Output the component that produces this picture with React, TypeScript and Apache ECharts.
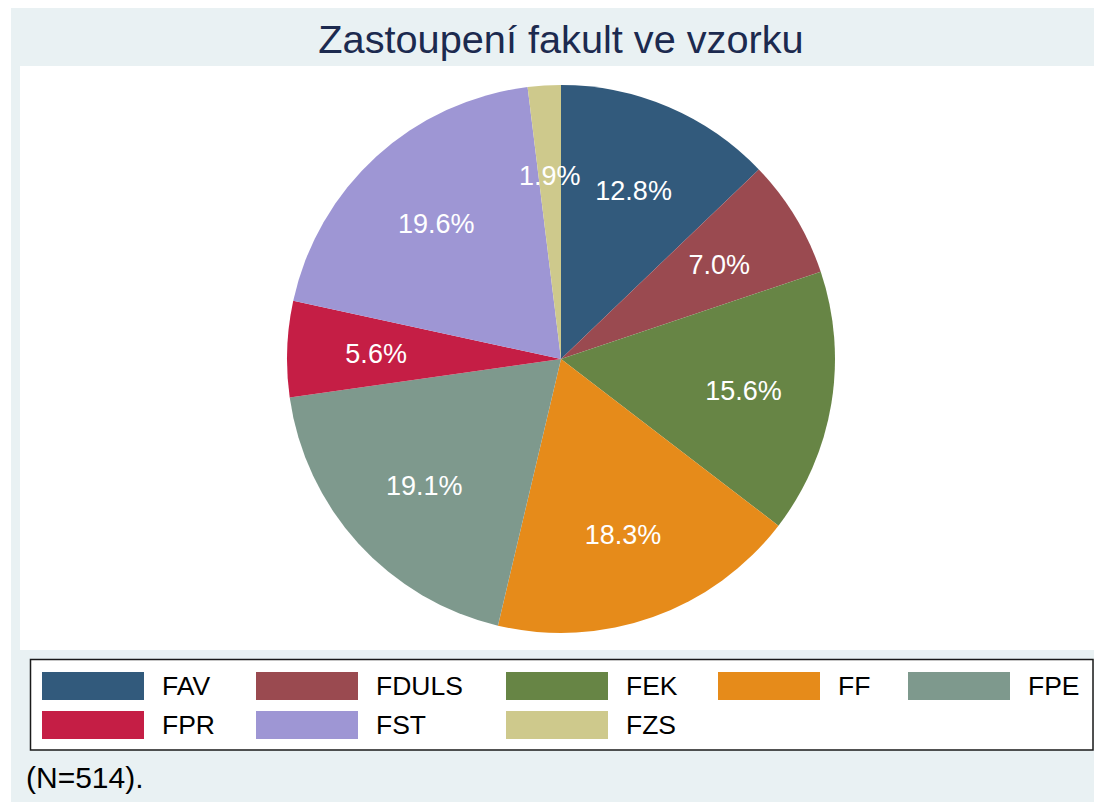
import React, { useEffect, useRef } from "react";
import * as echarts from "echarts";

const categories = ["FAV", "FDULS", "FEK", "FF", "FPE", "FPR", "FST", "FZS"];
const counts = [66, 36, 80, 94, 98, 29, 101, 10];
const colors = ["#325A7C", "#9A4A50", "#678545", "#E68B1A", "#7E998D", "#C51E45", "#9E96D4", "#CEC98C"];
const legendColumns = [["FAV", "FPR"], ["FDULS", "FST"], ["FEK", "FZS"], ["FF"], ["FPE"]];
const legendLefts = [42, 256, 506, 718, 908];
const titleText = "Zastoupení fakult ve vzorku";
const noteText = "(N=514).";

const FONT = "'Liberation Sans', Arial, sans-serif";

export default function App() {
  const ref = useRef<HTMLDivElement>(null);
  useEffect(() => {
    if (!ref.current) return;
    const chart = echarts.init(ref.current, undefined, { renderer: "svg" });
    const total = counts.reduce((a, b) => a + b, 0);
    const data = categories.map((name, i) => ({ name, value: counts[i], itemStyle: { color: colors[i] } }));
    const overlayData = categories.map((name, i) => ({ name, value: counts[i] }));
    chart.setOption({
      animation: false,
      graphic: [
        { type: "rect", z: 0, silent: true, shape: { x: 11, y: 8, width: 1083, height: 794 }, style: { fill: "#E9F1F3" } },
        { type: "rect", z: 0, silent: true, shape: { x: 20, y: 66, width: 1074, height: 584 }, style: { fill: "#FFFFFF" } },
        {
          type: "rect", z: 1, silent: true,
          shape: { x: 30.5, y: 659.5, width: 1062.5, height: 90.5 },
          style: { fill: "#FFFFFF", stroke: "#1a1a1a", lineWidth: 1.5 },
        },
        {
          type: "text", z: 5, silent: true, x: 561, y: 38.5,
          style: { text: titleText, fill: "#1C2A4F", font: `39.7px ${FONT}`, align: "center", verticalAlign: "middle" },
        },
        {
          type: "text", z: 5, silent: true, x: 26, y: 777,
          style: { text: noteText, fill: "#000000", font: `30px ${FONT}`, align: "left", verticalAlign: "middle" },
        },
      ],
      legend: legendColumns.map((col, i) => ({
        data: col,
        orient: "vertical",
        left: legendLefts[i],
        top: 672,
        padding: 0,
        itemWidth: 102,
        itemHeight: 28,
        itemGap: 11,
        icon: "rect",
        selectedMode: false,
        itemStyle: { borderWidth: 0 },
        textStyle: { fontFamily: FONT, fontSize: 26.5, color: "#000000", padding: [0, 0, 0, 13] },
      })),
      series: [
        {
          type: "pie",
          center: [561, 359],
          radius: [0, 274],
          startAngle: 90,
          clockwise: true,
          data,
          label: { show: false },
          labelLine: { show: false },
          itemStyle: { borderWidth: 0 },
          emphasis: { disabled: true },
        },
        {
          type: "pie",
          center: [561, 361],
          radius: [90, 274],
          startAngle: 90,
          clockwise: true,
          silent: true,
          data: overlayData,
          itemStyle: { color: "rgba(0,0,0,0)", borderWidth: 0 },
          label: {
            show: true,
            position: "inside",
            color: "#FFFFFF",
            fontFamily: FONT,
            fontSize: 27,
            formatter: (p: any) => ((p.value / total) * 100).toFixed(1) + "%",
          },
          labelLine: { show: false },
          emphasis: { disabled: true },
        },
      ],
    });
    return () => chart.dispose();
  }, []);
  return <div ref={ref} style={{ position: "absolute", left: 0, top: 0, width: 1094, height: 802 }} />;
}
